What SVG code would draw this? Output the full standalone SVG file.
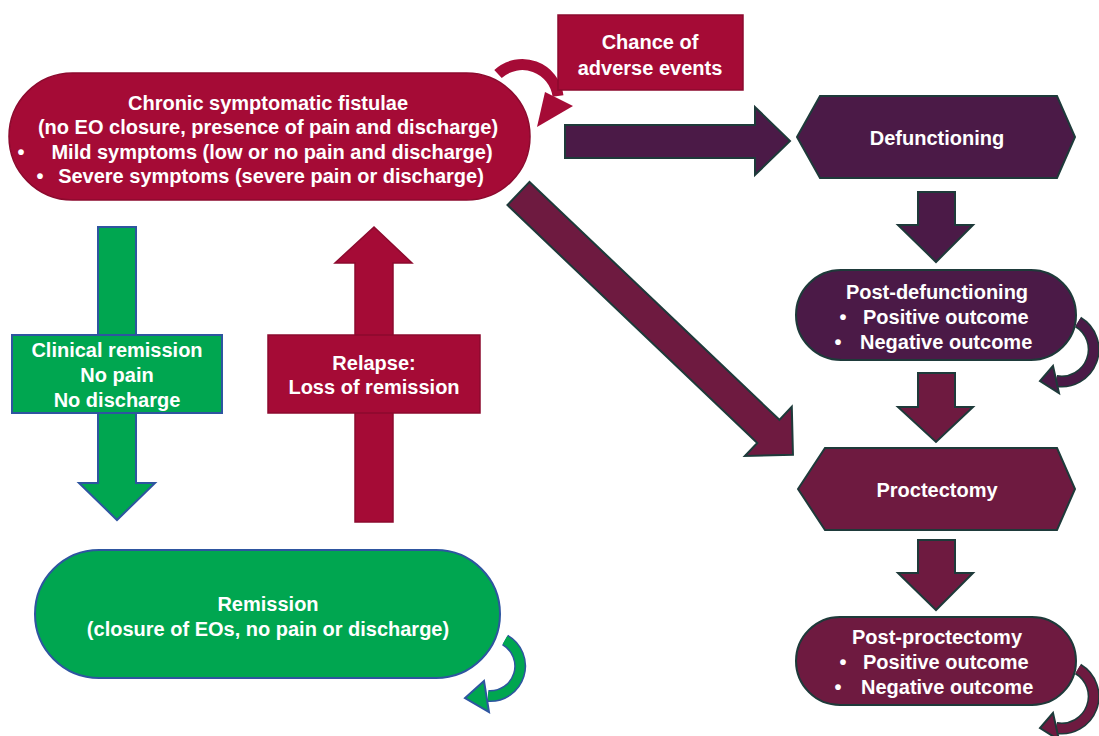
<svg xmlns="http://www.w3.org/2000/svg" width="1099" height="736" viewBox="0 0 1099 736">
<style>
text{font-family:"Liberation Sans",Arial,sans-serif;font-weight:bold;font-size:20px;fill:#FFFFFF}
.m{text-anchor:middle}
.crim{fill:#A50B36;stroke:#8C0A2E;stroke-width:1.5}
.purp{fill:#4B1A47;stroke:#1E3A3A;stroke-width:2}
.maro{fill:#6E1A40;stroke:#1E3A3A;stroke-width:2}
.grn{fill:#00A650;stroke:#2E55A0;stroke-width:2}
</style>
<rect width="1099" height="736" fill="#FFFFFF"/>
<g id="connectors">
  <!-- chance loop -->
  <path d="M 498 74 A 36 36 0 0 1 558 96" fill="none" stroke="#A50B36" stroke-width="11"/>
  <polygon points="545,92 573,106 537,127" fill="#A50B36"/>
  <!-- to defunctioning -->
  <polygon class="purp" points="565,125 755,125 755,107 790,141 755,175 755,158 565,158"/>
  <!-- diagonal to proctectomy -->
  <polygon class="maro" transform="translate(518.5,193.5) rotate(43.6)" points="0,-16 345,-16 345,-34 379,0 345,34 345,16 0,16"/>
  <!-- clinical remission down -->
  <polygon class="grn" points="98,227 136,227 136,483 155,483 117,520 79,483 98,483"/>
  <!-- relapse up -->
  <polygon class="crim" points="355,522 393,522 393,263 412,263 374,227 335,263 355,263"/>
  <!-- right column down arrows -->
  <polygon class="purp" points="918,192 955,192 955,225 973,225 936,262 898,225 918,225"/>
  <polygon class="maro" points="918,373 955,373 955,407 973,407 936,442 898,407 918,407"/>
  <polygon class="maro" points="918,540 955,540 955,573 973,573 936,610 898,573 918,573"/>
  <!-- self loops -->
  <path d="M 1078 322 A 32 32 0 0 1 1056 381" fill="none" stroke="#1E3A3A" stroke-width="12"/>
  <path d="M 1078 322 A 32 32 0 0 1 1056 381" fill="none" stroke="#4B1A47" stroke-width="9"/>
  <polygon class="purp" points="1053,366 1059,393 1040,381"/>
  <path d="M 1078 669 A 32 32 0 0 1 1056 728" fill="none" stroke="#1E3A3A" stroke-width="12"/>
  <path d="M 1078 669 A 32 32 0 0 1 1056 728" fill="none" stroke="#6E1A40" stroke-width="9"/>
  <polygon class="maro" points="1053,713 1059,740 1040,728"/>
  <path d="M 505 640 A 30 30 0 0 1 488 696" fill="none" stroke="#2E55A0" stroke-width="12"/>
  <path d="M 505 640 A 30 30 0 0 1 488 696" fill="none" stroke="#00A650" stroke-width="9"/>
  <polygon class="grn" points="484,681 489,712 465,698"/>
</g>
<g id="chronic">
  <rect class="crim" x="9" y="73" width="521" height="127" rx="63.5"/>
  <text class="m" x="268" y="110">Chronic symptomatic  fistulae</text>
  <text class="m" x="268" y="134">(no EO closure, presence of pain and discharge)</text>
  <text x="21" y="159" class="m">•</text>
  <text class="m" x="272" y="159">Mild symptoms  (low or no pain and discharge)</text>
  <text x="40" y="183" class="m">•</text>
  <text class="m" x="271" y="183">Severe symptoms  (severe pain or discharge)</text>
</g>
<g id="adverse">
  <rect class="crim" x="558" y="15" width="185" height="75"/>
  <text class="m" x="650" y="49">Chance of</text>
  <text class="m" x="650" y="75">adverse events</text>
</g>
<g id="clinical">
  <rect class="grn" x="12" y="335" width="210" height="78"/>
  <text class="m" x="117" y="357">Clinical remission</text>
  <text class="m" x="117" y="382">No pain</text>
  <text class="m" x="117" y="407">No discharge</text>
</g>
<g id="relapse">
  <rect class="crim" x="268" y="335" width="212" height="78"/>
  <text class="m" x="374" y="370">Relapse:</text>
  <text class="m" x="374" y="394">Loss of remission</text>
</g>
<g id="remission">
  <rect class="grn" x="35" y="550" width="465" height="128" rx="64"/>
  <text class="m" x="268" y="611">Remission</text>
  <text class="m" x="268" y="636">(closure of EOs, no pain or discharge)</text>
</g>
<g id="defunctioning">
  <polygon class="purp" points="797,137 820,96 1057,96 1075,137 1057,178 820,178"/>
  <text class="m" x="937" y="145">Defunctioning</text>
</g>
<g id="postdef">
  <rect class="purp" x="796" y="270" width="280" height="90" rx="45"/>
  <text class="m" x="937" y="299">Post-defunctioning</text>
  <text class="m" x="843" y="324">•</text>
  <text x="863" y="324">Positive outcome</text>
  <text class="m" x="838" y="349">•</text>
  <text x="860" y="349">Negative outcome</text>
</g>
<g id="proctectomy">
  <polygon class="maro" points="798,489 825,448 1057,448 1075,489 1057,530 825,530"/>
  <text class="m" x="937" y="497">Proctectomy</text>
</g>
<g id="postproct">
  <rect class="maro" x="796" y="617" width="280" height="88" rx="44"/>
  <text class="m" x="937" y="644">Post-proctectomy</text>
  <text class="m" x="843" y="669">•</text>
  <text x="863" y="669">Positive outcome</text>
  <text class="m" x="838" y="694">•</text>
  <text x="861" y="694">Negative outcome</text>
</g>
</svg>
